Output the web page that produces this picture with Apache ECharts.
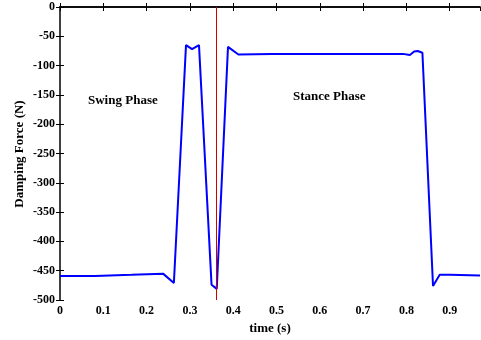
<!DOCTYPE html>
<html>
<head>
<meta charset="utf-8">
<script src="https://cdn.jsdelivr.net/npm/echarts@6/dist/echarts.min.js"></script>
<style>
  html, body { margin: 0; padding: 0; background: #fff; }
  #main { width: 481px; height: 340px; }
</style>
</head>
<body>
<div id="main"></div>
<script>
// damping force over one gait cycle
const times = [0, 0.081, 0.082, 0.165, 0.166, 0.238, 0.263, 0.291, 0.305, 0.321, 0.350, 0.362, 0.388, 0.412, 0.49, 0.792, 0.808, 0.818, 0.826, 0.837, 0.8615, 0.877, 0.90, 0.97];
const forces = [-459, -459, -457, -457, -455, -455, -471, -65, -72, -65, -474, -481, -68, -81, -80, -80, -82, -76, -75, -78, -476, -457, -457, -458];
const phaseSplit = 0.363;
const phaseLabels = ['Swing Phase', 'Stance Phase'];
const yTitle = 'Damping Force (N)';

const font = 'Liberation Serif, Times New Roman, serif';
const chart = echarts.init(document.getElementById('main'));

const tickStyle = { show: true, inside: true, length: 4, lineStyle: { color: '#000', width: 1 } };

chart.setOption({
  animation: false,
  grid: { left: 60, right: 1, top: 7, bottom: 40, outerBoundsMode: 'none' },
  xAxis: [
    {
      type: 'value', min: 0, max: 0.97, interval: 0.1,
      name: 'time (s)', nameLocation: 'middle', nameGap: 22,
      nameTextStyle: { fontFamily: font, fontWeight: 'bold', fontSize: 13, color: '#000' },
      axisLine: { lineStyle: { color: '#000', width: 1.5 } },
      axisTick: tickStyle,
      axisLabel: { fontFamily: font, fontWeight: 'bold', fontSize: 12, color: '#000', margin: 5, showMaxLabel: false },
      splitLine: { show: false }
    },
    {
      type: 'value', min: 0, max: 0.97, interval: 0.1, position: 'top',
      axisLine: { lineStyle: { color: '#000', width: 1.5 } },
      axisTick: tickStyle,
      axisLabel: { show: false },
      splitLine: { show: false }
    }
  ],
  yAxis: [
    {
      type: 'value', min: -500, max: 0, interval: 50,
      axisLine: { lineStyle: { color: '#000', width: 1.5 } },
      axisTick: tickStyle,
      axisLabel: { fontFamily: font, fontWeight: 'bold', fontSize: 12, color: '#000', margin: 5 },
      splitLine: { show: false }
    },
    {
      type: 'value', min: -500, max: 0, interval: 50, position: 'right',
      axisLine: { show: false },
      axisTick: tickStyle,
      axisLabel: { show: false },
      splitLine: { show: false }
    }
  ],
  graphic: [
    { type: 'text', left: 88, top: 94, style: { text: phaseLabels[0], font: 'bold 13px ' + font, fill: '#000' } },
    { type: 'text', left: 293, top: 90, style: { text: phaseLabels[1], font: 'bold 13px ' + font, fill: '#000' } },
    {
      type: 'text', x: 20, y: 154, rotation: Math.PI / 2,
      style: { text: yTitle, font: 'bold 13px ' + font, fill: '#000', align: 'center', verticalAlign: 'middle' }
    }
  ],
  series: [
    {
      type: 'line',
      data: times.map((t, i) => [t, forces[i]]),
      showSymbol: false,
      lineStyle: { color: '#0000ff', width: 2 },
      markLine: {
        silent: true,
        symbol: 'none',
        label: { show: false },
        lineStyle: { color: '#d00000', width: 1, type: 'solid' },
        data: [{ xAxis: phaseSplit }]
      }
    }
  ]
});
</script>
</body>
</html>
